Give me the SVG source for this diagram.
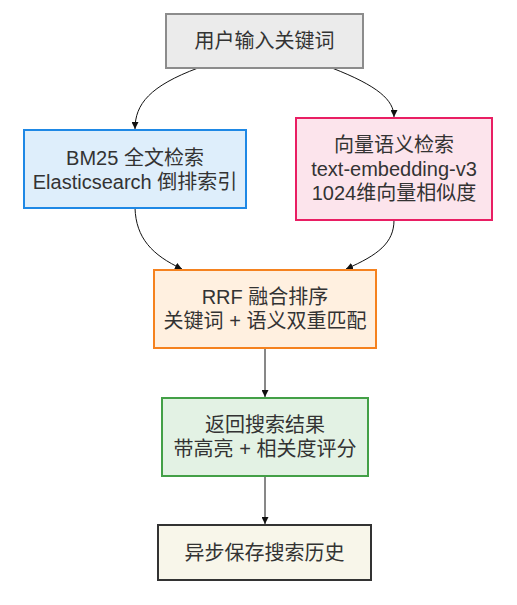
<svg xmlns="http://www.w3.org/2000/svg" width="517" height="605" viewBox="0 0 517 605">
<defs>
<marker id="arr" viewBox="0 0 10 10" refX="10" refY="5" markerWidth="7" markerHeight="7" markerUnits="userSpaceOnUse" orient="auto">
<path d="M0,0 L10,5 L0,10 Z" fill="#111"/>
</marker>
<style>
.n{stroke-width:2}
.t{font-family:"Liberation Sans","Noto Sans CJK SC",sans-serif;font-size:20px;fill:#333;text-anchor:middle}
.e{fill:none;stroke:#111;stroke-width:1;marker-end:url(#arr)}
</style>
</defs>
<rect width="517" height="605" fill="#fff"/>
<g id="edges">
<path class="e" d="M198,68 C150,86 135,104 135,129"/>
<path class="e" d="M332,68 C378,86 394,100 394,117"/>
<path class="e" d="M135,208 C136,238 152,255 182,269"/>
<path class="e" d="M394,220 C394,243 378,255 346,269"/>
<path class="e" d="M265,348 L265,397"/>
<path class="e" d="M265,476 L265,524"/>
</g>
<g id="input">
<rect class="n" x="166" y="14" width="197" height="54" fill="#ebebeb" stroke="#8c8c8c"/>
<text class="t" x="264.5" y="48">用户输入关键词</text>
</g>
<g id="bm25">
<rect class="n" x="24" y="130" width="222" height="78" fill="#deeefb" stroke="#1e88e5"/>
<text class="t" x="135" y="164.5">BM25 全文检索</text>
<text class="t" x="135" y="188.5">Elasticsearch 倒排索引</text>
</g>
<g id="vector">
<rect class="n" x="296" y="118" width="196" height="102" fill="#fce4ec" stroke="#e91e63"/>
<text class="t" x="394" y="152">向量语义检索</text>
<text class="t" x="394" y="176">text-embedding-v3</text>
<text class="t" x="394" y="200">1024维向量相似度</text>
</g>
<g id="rrf">
<rect class="n" x="154" y="270" width="222" height="78" fill="#fff0e0" stroke="#f5821f"/>
<text class="t" x="265" y="304">RRF 融合排序</text>
<text class="t" x="265" y="328">关键词 + 语义双重匹配</text>
</g>
<g id="result">
<rect class="n" x="162" y="398" width="206" height="78" fill="#e3f2e4" stroke="#43a047"/>
<text class="t" x="265" y="432">返回搜索结果</text>
<text class="t" x="265" y="456">带高亮 + 相关度评分</text>
</g>
<g id="history">
<rect class="n" x="158" y="525" width="213" height="55" fill="#f8f6ea" stroke="#333"/>
<text class="t" x="264.5" y="559.5">异步保存搜索历史</text>
</g>
</svg>
